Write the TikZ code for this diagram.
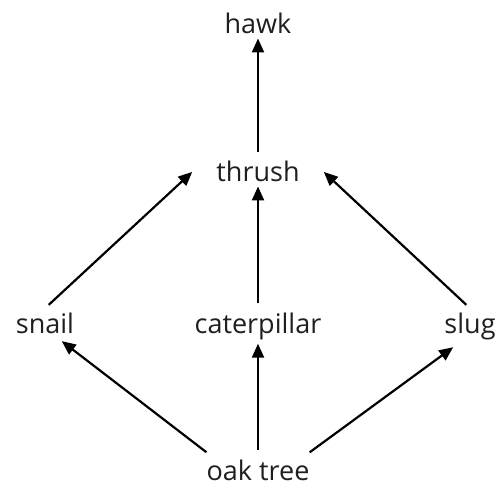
\documentclass[tikz,border=0pt]{standalone}
\usepackage{fontspec}
\setmainfont{Open Sans}
\usetikzlibrary{arrows.meta}
\begin{document}
\begin{tikzpicture}[>={Triangle[length=14pt,width=12pt]},x=1pt,y=1pt,
  every node/.style={font=\fontsize{27}{32}\selectfont,anchor=base,inner sep=4pt,text=black!88},
  link/.style={->,line width=2.2pt,shorten <=5pt}]
\useasboundingbox (0,0) rectangle (502,493);
\node (hawk) at (258,459) {hawk};
\node (thrush) at (258,311) {thrush};
\node (snail) at (45,160) {snail};
\node (caterpillar) at (258,160) {caterpillar};
\node (slug) at (470,160) {slug};
\node (oak) at (258,13) {oak tree};
\draw[link] (thrush.north) -- (hawk.south);
\draw[link] (caterpillar.north) -- (thrush.south);
\draw[link] (snail.north) -- ([xshift=-20pt]thrush.west);
\draw[link] (slug.north) -- ([xshift=20pt]thrush.east);
\draw[link] (oak.north) -- (caterpillar.south);
\draw[link,shorten >=6pt] ([xshift=8pt]oak.north west) -- ([xshift=12pt]snail.south);
\draw[link,shorten >=6pt] ([xshift=-8pt]oak.north east) -- ([xshift=-12pt]slug.south);
\end{tikzpicture}
\end{document}
